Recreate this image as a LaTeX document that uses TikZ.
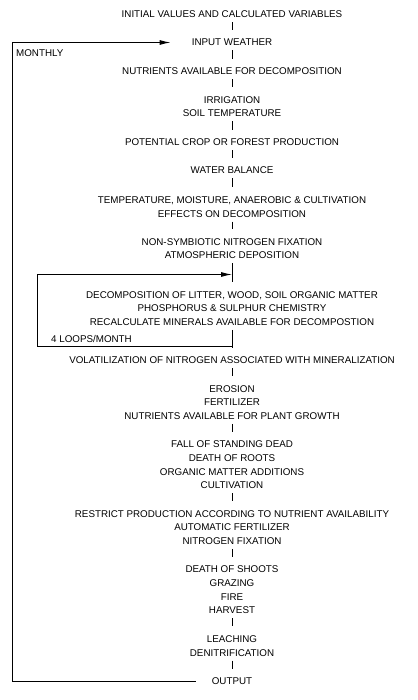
\documentclass[tikz,border=0pt]{standalone}
\usepackage{fontspec}
\setmainfont{Liberation Sans}
\usetikzlibrary{arrows.meta}

\begin{document}
\begin{tikzpicture}[x = 1pt, y = -1pt]
	\tikzstyle{stepStyle} = [align = center, inner xsep = 3pt, inner ysep = 4pt, font = \fontsize{9.8}{13.7}\selectfont]
	\tikzstyle{noteStyle} = [anchor = west, inner sep = 0pt, font = \fontsize{9.8}{13.7}\selectfont]
	\tikzstyle{tickStyle} = [line width = 1pt, shorten > = 5pt]
	\tikzstyle{loopStyle} = [line width = 1pt, -{Latex[length = 11pt, width = 5pt]}]
	\useasboundingbox (0,0) rectangle (417,700);
	\node[stepStyle] (s0) at (232,14.5) {INITIAL VALUES AND CALCULATED VARIABLES};
	\node[stepStyle] (s1) at (232,42.5) {INPUT WEATHER};
	\node[stepStyle] (s2) at (232,71.5) {NUTRIENTS AVAILABLE FOR DECOMPOSITION};
	\node[stepStyle] (s3) at (232,106.5) {IRRIGATION\\SOIL TEMPERATURE};
	\node[stepStyle] (s4) at (232,142.5) {POTENTIAL CROP OR FOREST PRODUCTION};
	\node[stepStyle] (s5) at (232,170.5) {WATER BALANCE};
	\node[stepStyle] (s6) at (232,207) {TEMPERATURE, MOISTURE, ANAEROBIC \& CULTIVATION\\EFFECTS ON DECOMPOSITION};
	\node[stepStyle] (s7) at (232,248.5) {NON-SYMBIOTIC NITROGEN FIXATION\\ATMOSPHERIC DEPOSITION};
	\node[stepStyle] (s8) at (232,308.5) {DECOMPOSITION OF LITTER, WOOD, SOIL ORGANIC MATTER\\PHOSPHORUS \& SULPHUR CHEMISTRY\\RECALCULATE MINERALS AVAILABLE FOR DECOMPOSTION};
	\node[stepStyle] (s9) at (232,360.5) {VOLATILIZATION OF NITROGEN ASSOCIATED WITH MINERALIZATION};
	\node[stepStyle] (s10) at (232,402.5) {EROSION\\FERTILIZER\\NUTRIENTS AVAILABLE FOR PLANT GROWTH};
	\node[stepStyle] (s11) at (232,465) {FALL OF STANDING DEAD\\DEATH OF ROOTS\\ORGANIC MATTER ADDITIONS\\CULTIVATION};
	\node[stepStyle] (s12) at (232,527.5) {RESTRICT PRODUCTION ACCORDING TO NUTRIENT AVAILABILITY\\AUTOMATIC FERTILIZER\\NITROGEN FIXATION};
	\node[stepStyle] (s13) at (232,590) {DEATH OF SHOOTS\\GRAZING\\FIRE\\HARVEST};
	\node[stepStyle] (s14) at (232,646) {LEACHING\\DENITRIFICATION};
	\node[stepStyle] (s15) at (232,681.5) {OUTPUT};
	\node[noteStyle] (monthly) at (16,53) {MONTHLY};
	\node[noteStyle] (loops) at (51,338.5) {4 LOOPS/MONTH};
	% short links between the steps
	\foreach \a/\b in {s0/s1, s1/s2, s2/s3, s3/s4, s4/s5, s5/s6, s6/s7, s7/s8, s8/s9, s9/s10, s10/s11, s11/s12, s12/s13, s13/s14, s14/s15}
		\draw[tickStyle] (\a.south) -- (\b.north);
	% decomposition loop
	\coordinate (ltop) at (232,274.5);
	\coordinate (lbot) at (232,346);
	\coordinate (lcorner) at (37,274.5);
	\draw[loopStyle] (lbot) -| (lcorner) -- (ltop);
	% monthly loop
	\coordinate (ocorner) at (12,42.5);
	\draw[loopStyle, shorten < = 13pt, shorten > = 18pt] (s15.west) -| (ocorner) -- (s1.west);
\end{tikzpicture}
\end{document}
